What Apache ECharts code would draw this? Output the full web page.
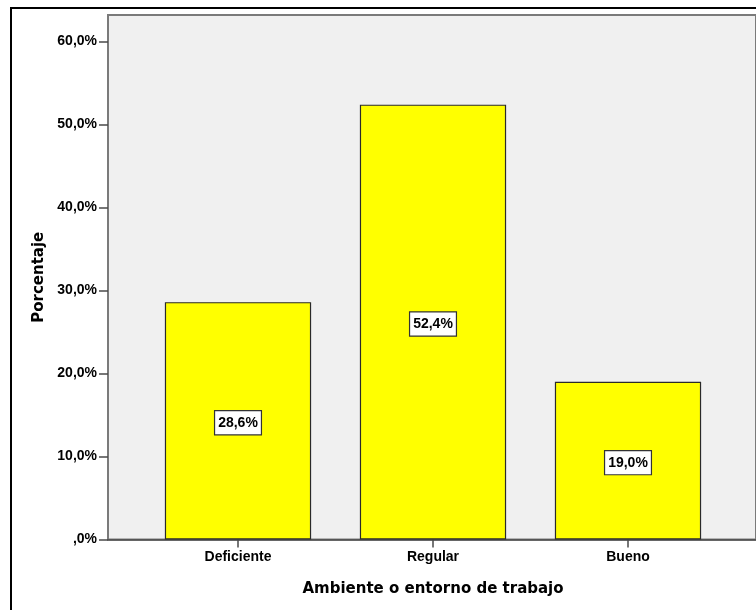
<!DOCTYPE html>
<html>
<head>
<meta charset="utf-8">
<script src="https://cdn.jsdelivr.net/npm/echarts@6/dist/echarts.min.js"></script>
<style>
  html, body { margin: 0; padding: 0; background: #fff; }
  #chart { width: 756px; height: 610px; }
</style>
</head>
<body>
<div id="chart"></div>
<script>
// Percentage of respondents per rating of the work environment
const categories = ['Deficiente', 'Regular', 'Bueno'];
const percentages = [28.6, 52.4, 19.0];
const yTicks = [0, 10, 20, 30, 40, 50, 60];
const yAxisMax = 63.2;
const xTitle = 'Ambiente o entorno de trabajo';
const yTitle = 'Porcentaje';

// Spanish-style percentage text: comma decimal, ",0%" for zero
function pct(v) {
  if (v === 0) return ',0%';
  return v.toFixed(1).replace('.', ',') + '%';
}

const labelFont = 'Liberation Sans, Arial, sans-serif';
const titleFont = 'DejaVu Sans, sans-serif';

const chart = echarts.init(document.getElementById('chart'), null, { renderer: 'canvas' });

chart.setOption({
  animation: false,
  backgroundColor: '#ffffff',
  graphic: [{
    // outer frame around the whole figure
    type: 'rect',
    shape: { x: 11, y: 8, width: 800, height: 700 },
    style: { fill: 'none', stroke: '#000', lineWidth: 2 },
    z: 100
  }],
  grid: [
    // plot frame with the value axis
    { left: 108, top: 15, right: -20, bottom: 70.5, show: true,
      backgroundColor: '#F0F0F0', borderColor: '#7a7a7a', borderWidth: 2 },
    // band area holding the bars
    { left: 140.5, top: 15, width: 585, bottom: 70.5 }
  ],
  xAxis: [
    { gridIndex: 0, type: 'value', min: 0, max: 1,
      axisLine: { show: true, onZero: false, lineStyle: { color: '#4a4a4a', width: 1.5 } },
      axisTick: { show: false }, axisLabel: { show: false }, splitLine: { show: false } },
    { gridIndex: 1, type: 'category', data: categories,
      axisLine: { show: false },
      axisTick: { show: true, alignWithLabel: true, length: 8, lineStyle: { color: '#4a4a4a', width: 1.5 } },
      axisLabel: { margin: 11, color: '#000', fontSize: 14, fontWeight: 'bold', fontFamily: labelFont },
      name: xTitle, nameLocation: 'middle', nameGap: 42,
      nameTextStyle: { color: '#000', fontSize: 15, fontWeight: 'bold', fontFamily: titleFont } }
  ],
  yAxis: [
    { gridIndex: 0, type: 'value', min: 0, max: yAxisMax,
      axisLine: { show: false },
      axisTick: { show: true, length: 9, customValues: yTicks, lineStyle: { color: '#4a4a4a', width: 1.5 } },
      axisLabel: { customValues: yTicks, margin: 11, formatter: pct, color: '#000',
        fontSize: 14, fontWeight: 'bold', fontFamily: labelFont },
      splitLine: { show: false },
      name: yTitle, nameLocation: 'middle', nameGap: 61,
      nameTextStyle: { color: '#000', fontSize: 15, fontWeight: 'bold', fontFamily: titleFont } },
    { gridIndex: 1, type: 'value', min: 0, max: yAxisMax, show: false }
  ],
  series: [{
    type: 'bar',
    xAxisIndex: 1, yAxisIndex: 1,
    data: percentages,
    barWidth: '75%',
    itemStyle: { color: '#FFFF00', borderColor: '#2a2a2a', borderWidth: 1.2 },
    label: {
      show: true, position: 'inside', offset: [0, 2],
      formatter: p => pct(p.value),
      color: '#000', fontSize: 14, fontWeight: 'bold', fontFamily: labelFont,
      backgroundColor: '#fff', borderColor: '#333', borderWidth: 1.2,
      padding: [5, 3, 4, 3]
    }
  }]
});
</script>
</body>
</html>
